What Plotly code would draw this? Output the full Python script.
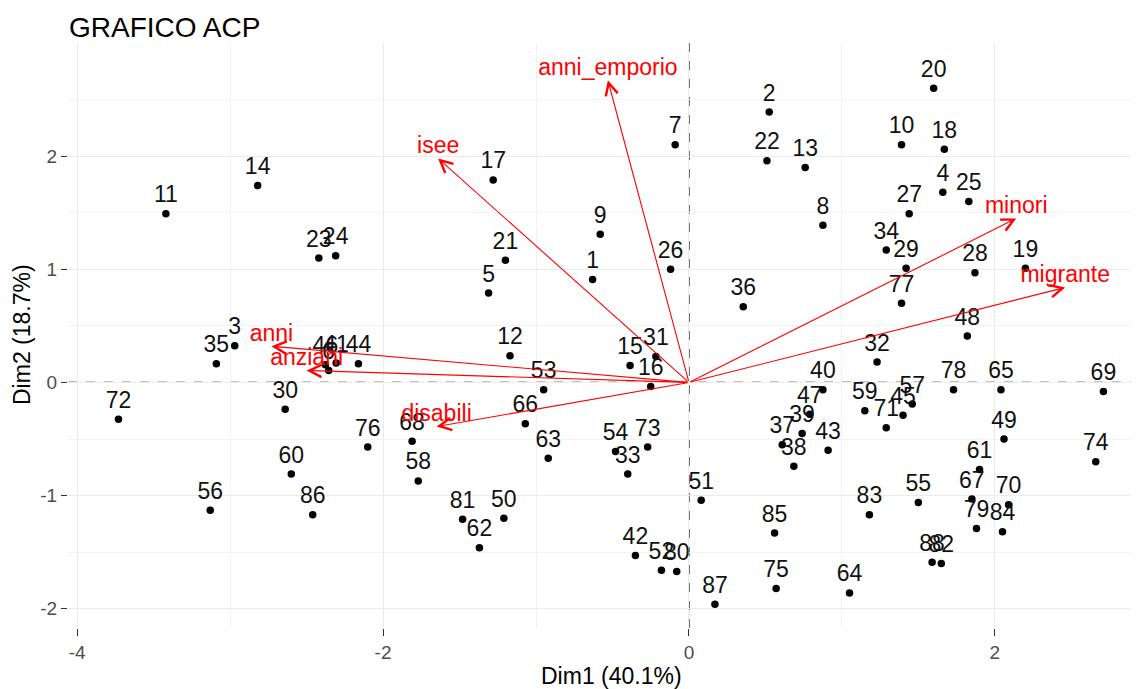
import plotly.graph_objects as go

# Individuals (PCA scores)
ind_labels = [str(i) for i in range(1, 89)]
ind_x = [-0.63, 0.525, -2.97, 1.66, -1.31, -2.355, -0.09, 0.876, -0.58, 1.39,
         -3.42, -1.17, 0.76, -2.82, -0.385, -0.25, -1.28, 1.67, 2.20, 1.60,
         -1.20, 0.51, -2.42, -2.31, 1.83, -0.12, 1.44, 1.87, 1.42, -2.64,
         -0.216, 1.23, -0.40, 1.29, -3.09, 0.355, 0.61, 0.686, 0.74, 0.876,
         -2.307, -0.35, 0.91, -2.161, 1.40, -2.377, 0.79, 1.82, 2.06, -1.21,
         0.08, -0.18, -0.95, -0.48, 1.50, -3.13, 1.46, -1.77, 1.15, -2.60,
         1.90, -1.37, -0.92, 1.05, 2.04, -1.07, 1.85, -1.81, 2.71, 2.09,
         1.29, -3.73, -0.27, 2.66, 0.57, -2.10, 1.39, 1.73, 1.88, -0.08,
         -1.48, 1.65, 1.18, 2.05, 0.56, -2.46, 0.17, 1.59]
ind_y = [0.91, 2.39, 0.325, 1.68, 0.79, 0.106, 2.10, 1.39, 1.31, 2.10,
         1.49, 0.236, 1.90, 1.74, 0.15, -0.035, 1.79, 2.06, 1.01, 2.60,
         1.08, 1.96, 1.10, 1.12, 1.60, 1.00, 1.49, 0.97, 1.01, -0.236,
         0.23, 0.18, -0.81, 1.17, 0.165, 0.67, -0.55, -0.74, -0.45, -0.065,
         0.171, -1.53, -0.60, 0.165, -0.29, 0.157, -0.28, 0.41, -0.50, -1.20,
         -1.04, -1.66, -0.065, -0.61, -1.06, -1.13, -0.19, -0.87, -0.25, -0.81,
         -0.77, -1.46, -0.67, -1.86, -0.065, -0.365, -1.03, -0.52, -0.08, -1.08,
         -0.40, -0.325, -0.57, -0.70, -1.82, -0.57, 0.70, -0.065, -1.29, -1.67,
         -1.21, -1.60, -1.17, -1.32, -1.33, -1.17, -1.96, -1.59]

# Variables (loadings arrows)
var_labels = ["anni_emporio", "isee", "minori", "migrante", "anni", "anziani", "disabili"]
var_x = [-0.53, -1.64, 2.14, 2.46, -2.73, -2.50, -1.65]
var_y = [2.67, 1.98, 1.45, 0.84, 0.32, 0.106, -0.39]

x_ticks = [-4, -2, 0, 2]
y_ticks = [-2, -1, 0, 1, 2]

FONT = "Liberation Sans, Arial, sans-serif"
RED = "#FF0000"

# the page body has an 8px default margin, so the figure is a little smaller
OFF = 8
W, H = 1139 - OFF, 689 - OFF
ML, MR, MT, MB = 68 - OFF, 5, 43 - OFF, 61
PW, PH = W - ML - MR, H - MT - MB


def px_to_paper_x(sx):
    return (sx - OFF - ML) / PW


def px_to_paper_y(sy):
    return ((MT + PH) - (sy - OFF)) / PH


fig = go.Figure()

fig.add_trace(go.Scatter(
    x=ind_x, y=ind_y, mode="markers+text", text=ind_labels,
    textposition="top center",
    marker=dict(color="black", size=7.5),
    textfont=dict(size=23, color="#111111", family=FONT),
    hoverinfo="skip", showlegend=False,
))

fig.add_trace(go.Scatter(
    x=var_x, y=var_y, mode="text", text=var_labels,
    textposition="top center",
    textfont=dict(size=23, color=RED, family=FONT),
    hoverinfo="skip", showlegend=False,
))

for vx, vy in zip(var_x, var_y):
    fig.add_annotation(
        x=vx, y=vy, ax=0, ay=0, xref="x", yref="y", axref="x", ayref="y",
        showarrow=True, arrowhead=5, arrowsize=2.2, arrowwidth=1.1,
        arrowcolor=RED, text="",
    )

# axis titles
fig.add_annotation(text="Dim1 (40.1%)", xref="paper", yref="paper",
                   x=px_to_paper_x(611), y=px_to_paper_y(676),
                   xanchor="center", yanchor="middle", showarrow=False,
                   font=dict(size=23, color="black", family=FONT))
fig.add_annotation(text="Dim2 (18.7%)", xref="paper", yref="paper",
                   x=px_to_paper_x(22), y=px_to_paper_y(335), textangle=-90,
                   xanchor="center", yanchor="middle", showarrow=False,
                   font=dict(size=23, color="black", family=FONT))

# dashed reference lines through origin
fig.add_shape(type="line", x0=0, x1=0, y0=0, y1=1, xref="x", yref="paper",
              line=dict(color="black", width=1.2, dash="dash"), layer="between")
fig.add_shape(type="line", x0=0, x1=1, y0=0, y1=0, xref="paper", yref="y",
              line=dict(color="black", width=1.2, dash="dash"), layer="between")

fig.update_layout(
    width=W, height=H,
    margin=dict(l=ML, r=MR, t=MT, b=MB, autoexpand=False),
    plot_bgcolor="white", paper_bgcolor="white",
    font=dict(family=FONT, color="#333333"),
    title=dict(text="GRAFICO ACP", x=(69 - OFF) / W, xanchor="left", xref="container",
               y=1 - (27 - OFF) / H, yanchor="middle", yref="container",
               font=dict(size=28, color="black", family=FONT)),
    showlegend=False,
)

fig.update_xaxes(
    range=[-4.06, 2.91], tickvals=x_ticks, ticktext=[str(v) for v in x_ticks],
    showgrid=True, gridcolor="#EBEBEB", gridwidth=1.3, zeroline=False,
    minor=dict(dtick=1, tick0=0, showgrid=True, gridcolor="#F2F2F2", gridwidth=0.8),
    ticks="outside", ticklen=7, tickwidth=1.2, tickcolor="#333333",
    tickfont=dict(size=19, color="#4D4D4D", family=FONT),
    automargin=False, showline=False,
)
fig.update_yaxes(
    range=[-2.17, 3.0], tickvals=y_ticks, ticktext=[str(v) for v in y_ticks],
    showgrid=True, gridcolor="#EBEBEB", gridwidth=1.3, zeroline=False,
    minor=dict(dtick=0.5, tick0=0, showgrid=True, gridcolor="#F2F2F2", gridwidth=0.8),
    ticks="outside", ticklen=6, tickwidth=1.2, tickcolor="#333333",
    tickfont=dict(size=19, color="#4D4D4D", family=FONT),
    automargin=False, showline=False,
)

fig.write_html("out.html")
